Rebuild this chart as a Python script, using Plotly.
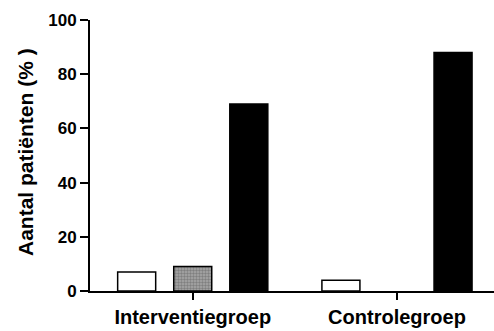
import plotly.graph_objects as go

groups = ["Interventiegroep", "Controlegroep"]
series_white = [7, 4]
series_gray = [9, None]
series_black = [69, 88]
y_ticks = [0, 20, 40, 60, 80, 100]

font_family = "Liberation Sans, Arial, sans-serif"

fig = go.Figure()
fig.add_trace(go.Bar(
    x=groups, y=series_white,
    marker=dict(color="white", line=dict(color="black", width=1.5)),
))
fig.add_trace(go.Bar(
    x=groups, y=series_gray,
    marker=dict(color="#9a9a9a", line=dict(color="black", width=1.5),
                pattern=dict(shape=".", fgcolor="#555555", bgcolor="#a8a8a8",
                             size=3, solidity=0.5)),
))
fig.add_trace(go.Bar(
    x=groups, y=series_black,
    marker=dict(color="black", line=dict(color="black", width=1.5)),
))

fig.update_layout(
    width=494, height=331,
    margin=dict(l=90, r=0, t=20, b=40),
    paper_bgcolor="white", plot_bgcolor="white",
    showlegend=False,
    barmode="group", bargap=0.1765, bargroupgap=0.322,
    font=dict(family=font_family, color="black"),
)
fig.update_xaxes(
    range=[-0.503, 1.475],
    showline=True, linecolor="black", linewidth=2,
    ticks="outside", ticklen=7, tickwidth=2, tickcolor="black",
    tickfont=dict(size=20, family=font_family, weight="bold"),
    showgrid=False, zeroline=False,
)
fig.update_yaxes(
    range=[0, 100], tickvals=y_ticks,
    showline=True, linecolor="black", linewidth=2,
    ticks="outside", ticklen=8, tickwidth=2, tickcolor="black",
    tickfont=dict(size=17, family=font_family, weight="bold"),
    showgrid=False, zeroline=False,
)
fig.add_annotation(
    text="Aantal patiënten (% )", textangle=-90,
    xref="paper", yref="paper", x=(25 - 90) / 404, y=(291 - 152) / 271,
    xanchor="center", yanchor="middle", showarrow=False,
    font=dict(size=21, family=font_family, weight="bold"),
)

fig.write_html("out.html")
